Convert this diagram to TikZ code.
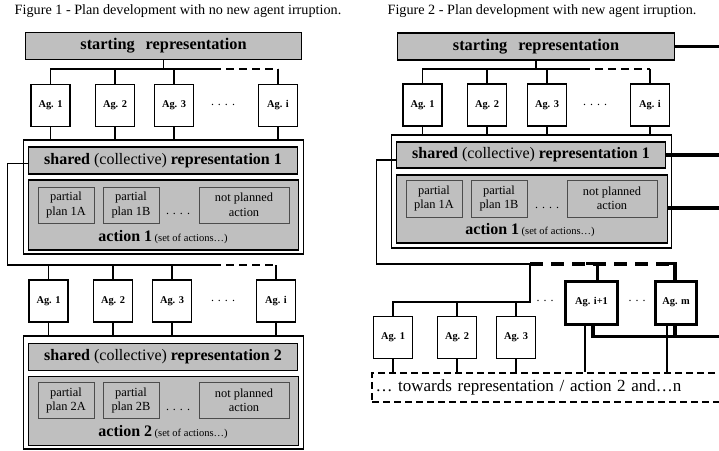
\documentclass[tikz,border=0pt]{standalone}
\usepackage{fontspec}
\setmainfont{Liberation Serif}
\usepackage{tikz}

\tikzset{
	capt/.style={font=\fontsize{14.2}{16}\selectfont},
	startbox/.style={draw, line width=1.6pt, fill=black!25, minimum width=276pt, minimum height=27pt, inner sep=0, font=\bfseries\fontsize{16.3}{18}\selectfont},
	agent/.style={draw, line width=1.2pt, fill=white, minimum width=39pt, minimum height=42pt, inner sep=0, font=\bfseries\fontsize{10.4}{12}\selectfont},
	newagent/.style={agent, line width=3pt, minimum height=43pt},
	frame/.style={draw, line width=1.2pt, inner sep=0, minimum width=280pt},
	repbox/.style={draw, line width=1.6pt, fill=black!25, minimum width=269pt, minimum height=26pt, inner sep=0, font=\fontsize{16}{18}\selectfont},
	actbox/.style={draw, line width=1.6pt, fill=black!25, minimum width=270pt, minimum height=68pt, inner sep=0},
	plan/.style={draw=black!70, line width=0.8pt, fill=black!25, minimum width=56pt, minimum height=36pt, inner sep=0, align=center, font=\fontsize{12.4}{14.5}\selectfont},
	dotted text/.style={font=\fontsize{12}{13}\selectfont},
	conn/.style={line width=1.2pt},
	heavy/.style={line width=3.2pt},
	tow/.style={draw, dash pattern=on 7pt off 4pt, line width=1.2pt, minimum height=29pt, text width=381pt, inner xsep=3.5pt, align=left, font=\fontsize{17}{19}\selectfont}
}

\begin{document}
\begin{tikzpicture}[x=1pt, y=-1pt]
			\useasboundingbox (0,0) rectangle (719,450);
			\clip (0,0) rectangle (719,450);

			\node[capt] (cap1) at (178,11) {Figure 1 - Plan development with no new agent irruption.};
			\node[startbox] (st1) at (163.5,46) {starting\hspace{11pt}representation};
			\node[agent] (a11) at (50.5,105.5) {Ag. 1};
			\node[agent] (a12) at (115,105.5) {Ag. 2};
			\node[agent] (a13) at (174,105.5) {Ag. 3};
			\node[agent] (a1i) at (278,105.5) {Ag. i};
			\node[dotted text] (dt1) at (223,105) {. . . .};
			\coordinate (d1) at (213,69);
			\draw[conn] (st1.south) -- (st1.south |- d1);
			\draw[conn] (a11.north) |- (d1);
			\draw[conn] (a12.north) -- (a12.north |- d1);
			\draw[conn] (a13.north) -- (a13.north |- d1);
			\draw[conn, dash pattern=on 8pt off 5pt] (d1) -- (d1 -| a1i.north);
			\draw[conn] (a1i.north) -- (a1i.north |- d1);

			\node[frame, minimum height=114pt] (fr1) at (163.5,197) {};
			\foreach \n in {1,2,3,i}
				\draw[conn] (a1\n.south) -- (a1\n.south |- fr1.north);
			\node[repbox, minimum height=27pt] (sh1) at (163,160.5) {\textbf{shared} (collective) \textbf{representation 1}};
			\node[actbox, minimum height=70pt] (ac1) at (163.5,215) {};
			\node[plan] (p1a) at (66,205) {partial\\plan 1A};
			\node[plan] (p1b) at (131,205) {partial\\plan 1B};
			\node[dotted text] (dt2) at (178,214) {. . . .};
			\node[plan, minimum width=90pt] (np1) at (244,205) {not planned\\action};
			\node (al1) at (163,237) {{\fontsize{16}{18}\selectfont\bfseries action 1} {\fontsize{10.5}{12}\selectfont (set of actions…)}};

			\node[agent] (a21) at (48.5,301) {Ag. 1};
			\node[agent] (a22) at (113,301) {Ag. 2};
			\node[agent] (a23) at (172,301) {Ag. 3};
			\node[agent] (a2i) at (276,301) {Ag. i};
			\node[dotted text] (dt3) at (223,301) {. . . .};
			\coordinate (d2) at (213,265);
			\draw[conn] ([yshift=-3pt]sh1.west) -- ++(-20,0) |- (d2);
			\draw[conn] (a21.north) -- (a21.north |- d2);
			\draw[conn] (a22.north) -- (a22.north |- d2);
			\draw[conn] (a23.north) -- (a23.north |- d2);
			\draw[conn, dash pattern=on 8pt off 5pt] (d2) -- (d2 -| a2i.north);
			\draw[conn] (a2i.north) -- (a2i.north |- d2);

			\node[frame, minimum height=113pt] (fr2) at (163.5,392.5) {};
			\foreach \n in {1,2,3,i}
				\draw[conn] (a2\n.south) -- (a2\n.south |- fr2.north);
			\node[repbox, minimum height=27pt] (sh2) at (163,357) {\textbf{shared} (collective) \textbf{representation 2}};
			\node[actbox, minimum height=69pt] (ac2) at (163.5,411) {};
			\node[plan] (p2a) at (66,400.5) {partial\\plan 2A};
			\node[plan] (p2b) at (131,400.5) {partial\\plan 2B};
			\node[dotted text] (dt4) at (178,410) {. . . .};
			\node[plan, minimum width=90pt] (np2) at (244,400.5) {not planned\\action};
			\node (al2) at (163,432) {{\fontsize{16}{18}\selectfont\bfseries action 2} {\fontsize{10.5}{12}\selectfont (set of actions…)}};

			\node[capt] (cap2) at (542,11) {Figure 2 - Plan development with new agent irruption.};
			\node[startbox, minimum width=277pt] (st2) at (536,46.5) {starting\hspace{11pt}representation};
			\draw[heavy] (st2.east) -- ++(60,0);
			\node[agent] (b11) at (422.5,105) {Ag. 1};
			\node[agent] (b12) at (487,105) {Ag. 2};
			\node[agent] (b13) at (547,105) {Ag. 3};
			\node[agent] (b1i) at (650,105) {Ag. i};
			\node[dotted text] (dt5) at (595,105) {. . . .};
			\coordinate (d3) at (582,69);
			\draw[conn] (st2.south) -- (st2.south |- d3);
			\draw[conn] (b11.north) |- (d3);
			\draw[conn] (b12.north) -- (b12.north |- d3);
			\draw[conn] (b13.north) -- (b13.north |- d3);
			\draw[conn, dash pattern=on 8pt off 5pt] (d3) -- (d3 -| b1i.north);
			\draw[conn] (b1i.north) -- (b1i.north |- d3);

			\node[frame, minimum height=113pt] (fr3) at (531.5,191.5) {};
			\foreach \n in {1,2,3,i}
				\draw[conn] (b1\n.south) -- (b1\n.south |- fr3.north);
			\node[repbox] (sh3) at (531,155) {\textbf{shared} (collective) \textbf{representation 1}};
			\node[actbox, minimum width=271pt] (ac3) at (532,209) {};
			\draw[heavy] (sh3.east) -- ++(60,0);
			\draw[heavy] ([yshift=1pt]ac3.east) -- ++(60,0);
			\node[plan, minimum height=37pt] (p3a) at (434,198.5) {partial\\plan 1A};
			\node[plan, minimum height=37pt] (p3b) at (499,198.5) {partial\\plan 1B};
			\node[dotted text] (dt6) at (547,208) {. . . .};
			\node[plan, minimum width=90pt, minimum height=37pt] (np3) at (612,198.5) {not planned\\action};
			\node (al3) at (530,230) {{\fontsize{16}{18}\selectfont\bfseries action 1} {\fontsize{10.5}{12}\selectfont (set of actions…)}};

			\node[agent] (b21) at (393,337.5) {Ag. 1};
			\node[agent] (b22) at (457,337.5) {Ag. 2};
			\node[agent] (b23) at (516,337.5) {Ag. 3};
			\node[newagent, minimum width=52pt] (ni) at (591.5,302.5) {Ag. i+1};
			\node[newagent, minimum width=41pt] (nm) at (676,302.5) {Ag. m};
			\node[dotted text] (dt7) at (545,301) {. . .};
			\node[dotted text] (dt8) at (637,301) {. . .};
			\coordinate (j1) at (530,264);
			\coordinate (j2) at (530,302);
			\draw[conn] ([yshift=-5pt]sh3.west) -- ++(-19,0) |- (j1);
			\draw[conn] (b21.north) |- (j2) -- (j1);
			\draw[conn] (b22.north) -- (b22.north |- j2);
			\draw[conn] (b23.north) -- (b23.north |- j2);
			\draw[heavy, dash pattern=on 13pt off 8pt] (j1) -- (j1 -| nm.north);
			\draw[heavy] ([xshift=6pt]ni.north) |- ++(-12,-16);
			\draw[heavy] ([xshift=-1pt]nm.north) |- ++(-12,-16);

			\node[tow] (tw) at (566,387.5) {… towards representation / action 2 and…n};
			\foreach \n in {b21,b22,b23}
				\draw[conn] (\n.south) -- (\n.south |- tw.north);
			\draw[conn] ([xshift=-6.5pt]ni.south) -- ([xshift=-6.5pt]ni.south |- tw.north);
			\draw[conn] ([xshift=-9pt]nm.south) -- ([xshift=-9pt]nm.south |- tw.north);
			\draw[heavy] ([xshift=1.5pt]ni.south) |- ++(150,11);
			\draw[heavy] ([xshift=-1pt]nm.south) -- ++(0,11);
\end{tikzpicture}
\end{document}
